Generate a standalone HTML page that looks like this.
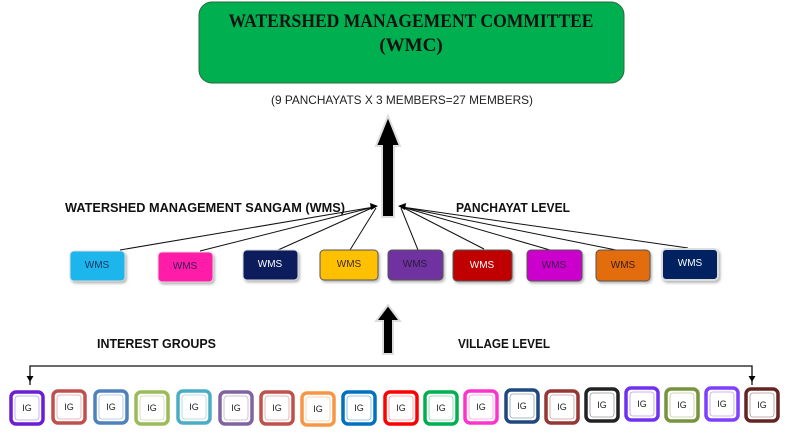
<!DOCTYPE html>
<html><head><meta charset="utf-8"><style>
html,body{margin:0;padding:0;background:#fff;}
svg{display:block;}
</style></head><body>
<svg width="800" height="436" viewBox="0 0 800 436" xmlns="http://www.w3.org/2000/svg">
<defs>
<filter id="sh" x="-20%" y="-20%" width="150%" height="160%"><feDropShadow dx="1.5" dy="2" stdDeviation="1.2" flood-color="#999" flood-opacity="0.7"/></filter>
</defs>
<rect x="199" y="2" width="425" height="81" rx="13" fill="#00b050" stroke="#2a6a3a" stroke-width="1"/>
<text x="411" y="27" text-anchor="middle" font-family="Liberation Serif,serif" font-weight="bold" font-size="19" textLength="365" lengthAdjust="spacingAndGlyphs" fill="#111">WATERSHED MANAGEMENT COMMITTEE</text>
<text x="411" y="51" text-anchor="middle" font-family="Liberation Serif,serif" font-weight="bold" font-size="19" fill="#111">(WMC)</text>
<text x="402" y="104" text-anchor="middle" font-family="Liberation Sans,sans-serif" font-size="12" textLength="262" lengthAdjust="spacingAndGlyphs" fill="#222">(9 PANCHAYATS X 3 MEMBERS=27 MEMBERS)</text>
<!-- big arrow -->
<polygon points="388,116 400,146 394,146 394,217 382,217 382,146 376,146" fill="#000" stroke="#ddd" stroke-width="2"/>
<!-- small arrow -->
<polygon points="388,305 400,321 393,321 393,354 383,354 383,321 376,321" fill="#000" stroke="#ddd" stroke-width="2"/>
<text x="65" y="212" font-family="Liberation Sans,sans-serif" font-weight="bold" font-size="12.5" textLength="280" lengthAdjust="spacingAndGlyphs" fill="#111">WATERSHED MANAGEMENT SANGAM (WMS)</text>
<text x="456" y="212" font-family="Liberation Sans,sans-serif" font-weight="bold" font-size="12.5" textLength="114" lengthAdjust="spacingAndGlyphs" fill="#111">PANCHAYAT LEVEL</text>
<text x="97" y="348" font-family="Liberation Sans,sans-serif" font-weight="bold" font-size="13" textLength="119" lengthAdjust="spacingAndGlyphs" fill="#111">INTEREST GROUPS</text>
<text x="458" y="348" font-family="Liberation Sans,sans-serif" font-weight="bold" font-size="13" textLength="92" lengthAdjust="spacingAndGlyphs" fill="#111">VILLAGE LEVEL</text>
<!-- connector lines -->
<g stroke="#111" stroke-width="1" fill="none">
<line x1="120" y1="250" x2="374" y2="207"/>
<line x1="200" y1="251" x2="374" y2="207"/>
<line x1="278" y1="250" x2="374" y2="207"/>
<line x1="350" y1="250" x2="376" y2="208"/>
<line x1="418" y1="250" x2="401" y2="208"/>
<line x1="484" y1="249" x2="402" y2="207"/>
<line x1="550" y1="250" x2="402" y2="207"/>
<line x1="616" y1="250" x2="402" y2="207"/>
<line x1="688" y1="248" x2="402" y2="207"/>
</g>
<polygon points="378,206 370,203 371,210" fill="#000"/>
<polygon points="398,206 406,203 405,210" fill="#000"/>
<!-- WMS boxes -->
<g font-family="Liberation Sans,sans-serif" font-size="10" text-anchor="middle">
<g filter="url(#sh)">
<rect x="70" y="251" width="55" height="30" rx="4" fill="#1cb5ec" stroke="#ddd"/>
<rect x="158" y="252" width="55" height="30" rx="4" fill="#ff1aa8" stroke="#ddd"/>
<rect x="243" y="250" width="55" height="30" rx="4" fill="#0c1f5c" stroke="#ddd"/>
<rect x="320" y="250" width="58" height="30" rx="4" fill="#ffc000" stroke="#555"/>
<rect x="388" y="250" width="55" height="30" rx="4" fill="#7030a0" stroke="#555"/>
<rect x="453" y="250" width="59" height="31" rx="4" fill="#c00000" stroke="#555"/>
<rect x="527" y="250" width="55" height="31" rx="4" fill="#cc00cc" stroke="#555"/>
<rect x="596" y="250" width="54" height="31" rx="4" fill="#e36c09" stroke="#555"/>
<rect x="662" y="249" width="56" height="31" rx="4" fill="#002060" stroke="#ddd" stroke-width="2"/>
</g>
<text x="97" y="268" fill="#1f3864">WMS</text>
<text x="185" y="269" fill="#3a1a5a">WMS</text>
<text x="270" y="267" fill="#fff">WMS</text>
<text x="349" y="267" fill="#3a2a2a">WMS</text>
<text x="415" y="267" fill="#2a1a3a">WMS</text>
<text x="482" y="268" fill="#fff">WMS</text>
<text x="554" y="268" fill="#3a1a4a">WMS</text>
<text x="623" y="268" fill="#3a1a1a">WMS</text>
<text x="690" y="266" fill="#fff">WMS</text>
</g>
<!-- bracket -->
<polyline points="30,385 30,366 752,366 752,385" fill="none" stroke="#111" stroke-width="1.3"/>
<polygon points="30,382 26.5,376 33.5,376" fill="#000"/>
<polygon points="752,382 748.5,376 755.5,376" fill="#000"/>
<!-- IG boxes -->
<g font-family="Liberation Sans,sans-serif" font-size="9" text-anchor="middle" fill="#222">
<g fill="#fff" stroke-width="3.5">
<rect x="11" y="392" width="32" height="32" rx="5" stroke="#6a1fd0"/>
<rect x="53" y="391" width="32" height="32" rx="5" stroke="#c0504d"/>
<rect x="95" y="391" width="32" height="32" rx="5" stroke="#4f81bd"/>
<rect x="136" y="392" width="32" height="32" rx="5" stroke="#9bbb59"/>
<rect x="178" y="391" width="32" height="32" rx="5" stroke="#4bacc6"/>
<rect x="220" y="392" width="32" height="32" rx="5" stroke="#8064a2"/>
<rect x="261" y="392" width="32" height="32" rx="5" stroke="#c0504d"/>
<rect x="302" y="393" width="32" height="32" rx="5" stroke="#f79646"/>
<rect x="343" y="392" width="32" height="32" rx="5" stroke="#0070c0"/>
<rect x="385" y="392" width="32" height="32" rx="5" stroke="#ff0000"/>
<rect x="425" y="392" width="32" height="32" rx="5" stroke="#00b050"/>
<rect x="465" y="391" width="32" height="32" rx="5" stroke="#ff33cc"/>
<rect x="506" y="390" width="32" height="32" rx="5" stroke="#1f497d"/>
<rect x="546" y="391" width="32" height="32" rx="5" stroke="#953735"/>
<rect x="586" y="389" width="32" height="32" rx="5" stroke="#222"/>
<rect x="626" y="388" width="32" height="32" rx="5" stroke="#7030f0"/>
<rect x="666" y="389" width="32" height="32" rx="5" stroke="#77933c"/>
<rect x="706" y="388" width="32" height="32" rx="5" stroke="#7f3fff"/>
<rect x="746" y="389" width="32" height="32" rx="5" stroke="#632523"/>
</g>
<g fill="none" stroke-width="0.8">
<rect x="15" y="396" width="24" height="24" rx="3" stroke="#b9a0ee"/>
<rect x="57" y="395" width="24" height="24" rx="3" stroke="#e0a8a6"/>
<rect x="99" y="395" width="24" height="24" rx="3" stroke="#a7c0de"/>
<rect x="140" y="396" width="24" height="24" rx="3" stroke="#cddcac"/>
<rect x="182" y="395" width="24" height="24" rx="3" stroke="#a5d5e2"/>
<rect x="224" y="396" width="24" height="24" rx="3" stroke="#bfb1d0"/>
<rect x="265" y="396" width="24" height="24" rx="3" stroke="#e0a8a6"/>
<rect x="306" y="397" width="24" height="24" rx="3" stroke="#fbcaa2"/>
<rect x="347" y="396" width="24" height="24" rx="3" stroke="#80b7e0"/>
<rect x="389" y="396" width="24" height="24" rx="3" stroke="#ff9999"/>
<rect x="429" y="396" width="24" height="24" rx="3" stroke="#80d7a7"/>
<rect x="469" y="395" width="24" height="24" rx="3" stroke="#ff99e5"/>
<rect x="510" y="394" width="24" height="24" rx="3" stroke="#8fa4be"/>
<rect x="550" y="395" width="24" height="24" rx="3" stroke="#ca9b9a"/>
<rect x="590" y="393" width="24" height="24" rx="3" stroke="#999"/>
<rect x="630" y="392" width="24" height="24" rx="3" stroke="#b797f7"/>
<rect x="670" y="393" width="24" height="24" rx="3" stroke="#bbc99d"/>
<rect x="710" y="392" width="24" height="24" rx="3" stroke="#bf9fff"/>
<rect x="750" y="393" width="24" height="24" rx="3" stroke="#b19291"/>
</g>
<text x="27" y="411">IG</text><text x="69" y="410">IG</text><text x="111" y="410">IG</text><text x="152" y="411">IG</text>
<text x="194" y="410">IG</text><text x="236" y="411">IG</text><text x="277" y="411">IG</text><text x="318" y="412">IG</text>
<text x="359" y="411">IG</text><text x="401" y="411">IG</text><text x="441" y="411">IG</text><text x="481" y="410">IG</text>
<text x="522" y="409">IG</text><text x="562" y="410">IG</text><text x="602" y="408">IG</text><text x="642" y="407">IG</text>
<text x="682" y="408">IG</text><text x="722" y="407">IG</text><text x="762" y="408">IG</text>
</g>
</svg>
</body></html>
